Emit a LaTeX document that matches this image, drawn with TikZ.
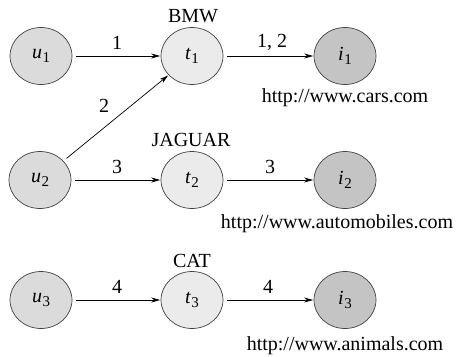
\documentclass[tikz,border=0pt]{standalone}
\usepackage{fontspec}
\setmainfont{Liberation Serif}
\usetikzlibrary{arrows.meta,shapes.geometric}
\newcommand\nlab[2]{\textit{#1}\kern0.5pt\raisebox{-0.45ex}{\fontsize{15}{15}\selectfont #2}}
\begin{document}
\begin{tikzpicture}[x=1pt,y=-1pt,
  every node/.style={font=\fontsize{20}{24}\selectfont},
  vert/.style={ellipse,draw=black!75,line width=0.7pt,minimum width=62pt,minimum height=57pt,inner sep=0pt},
  unode/.style={vert,fill=black!14},
  tnode/.style={vert,fill=black!8},
  inode/.style={vert,fill=black!23},
  conn/.style={-{Stealth[length=9pt,width=5pt]},line width=0.7pt,shorten <=4pt,shorten >=0.5pt},
  elab/.style={inner sep=0pt},
  txt/.style={inner sep=0pt}]
\useasboundingbox (0,0) rectangle (462,356);
\node[unode] (u1) at (41,56) {\nlab{u}{1}};
\node[tnode] (t1) at (192,56) {\nlab{t}{1}};
\node[inode] (i1) at (345,56) {\nlab{i}{1}};
\node[unode] (u2) at (40,180) {\nlab{u}{2}};
\node[tnode] (t2) at (192,180) {\nlab{t}{2}};
\node[inode] (i2) at (345,180) {\nlab{i}{2}};
\node[unode] (u3) at (41,300) {\nlab{u}{3}};
\node[tnode] (t3) at (192,300) {\nlab{t}{3}};
\node[inode] (i3) at (345,300) {\nlab{i}{3}};

\node[txt] (bmw) at (193,16) {BMW};
\node[txt] (jag) at (191,140) {JAGUAR};
\node[txt] (cat) at (192,261) {CAT};
\node[txt] (w1) at (345,98) {http://www.cars.com};
\node[txt] (w2) at (337,224) {http://www.automobiles.com};
\node[txt] (w3) at (345,346) {http://www.animals.com};

\draw[conn] (u1) -- (t1);
\draw[conn] (t1) -- (i1);
\draw[conn] (u2) -- (t1);
\draw[conn] (u2) -- (t2);
\draw[conn] (t2) -- (i2);
\draw[conn] (u3) -- (t3);
\draw[conn] (t3) -- (i3);

\node[elab] (l1) at (117,43) {1};
\node[elab] (l12) at (272,42) {1, 2};
\node[elab] (l2) at (104,106) {2};
\node[elab] (l3a) at (117,167) {3};
\node[elab] (l3b) at (270,167) {3};
\node[elab] (l4a) at (117,287) {4};
\node[elab] (l4b) at (268,287) {4};
\end{tikzpicture}
\end{document}
